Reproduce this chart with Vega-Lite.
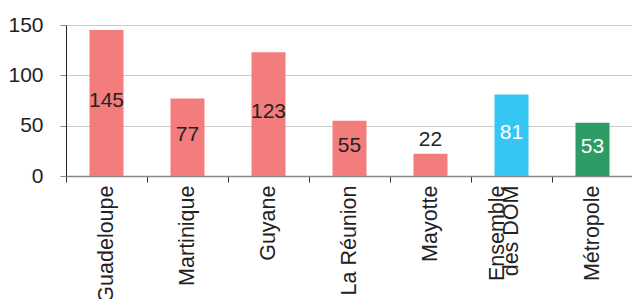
{
  "$schema": "https://vega.github.io/schema/vega-lite/v6.json",
  "autosize": "none",
  "padding": {"left": 66, "top": 25, "right": 0, "bottom": 123},
  "width": 567,
  "height": 151,
  "config": {"view": {"stroke": null}, "font": "Liberation Sans"},
  "data": {"values": [
    {"region": "Guadeloupe", "v": 145, "grp": "DOM"},
    {"region": "Martinique", "v": 77, "grp": "DOM"},
    {"region": "Guyane", "v": 123, "grp": "DOM"},
    {"region": "La Réunion", "v": 55, "grp": "DOM"},
    {"region": "Mayotte", "v": 22, "grp": "DOM"},
    {"region": "Ensemble des DOM", "v": 81, "grp": "Ensemble"},
    {"region": "Métropole", "v": 53, "grp": "Métropole"}
  ]},
  "encoding": {
    "x": {
      "field": "region", "type": "nominal", "sort": null, "title": null,
      "scale": {"paddingInner": 0, "paddingOuter": 0},
      "axis": {
        "labelAngle": -90, "labelFontSize": 21.5, "labelColor": "#222",
        "labelPadding": 3, "labelLineHeight": 14.5, "labelOffset": -14.5,
        "labelExpr": "datum.label === 'Ensemble des DOM' ? ['Ensemble', '\u00a0', 'des DOM'] : ['\u00a0', datum.label]",
        "tickBand": "extent", "tickSize": 6, "tickColor": "#333",
        "domainColor": "#888", "domainWidth": 1.5, "grid": false
      }
    }
  },
  "layer": [
    {
      "mark": {"type": "bar", "width": {"band": 0.42}},
      "encoding": {
        "y": {
          "field": "v", "type": "quantitative", "title": null,
          "scale": {"domain": [0, 150], "nice": false},
          "axis": {
            "values": [0, 50, 100, 150], "labelFontSize": 21, "labelColor": "#222",
            "labelPadding": 17, "tickSize": 6, "tickColor": "#888",
            "domainColor": "#222", "gridColor": "#cccccc", "gridWidth": 1.2
          }
        },
        "color": {
          "field": "grp", "type": "nominal", "legend": null,
          "scale": {"domain": ["DOM", "Ensemble", "Métropole"], "range": ["#f37c7c", "#35c6f4", "#2e9a64"]}
        }
      }
    },
    {
      "transform": [{"filter": "datum.v >= 30"}, {"calculate": "datum.v / 2", "as": "mid"}],
      "mark": {"type": "text", "fontSize": 21, "baseline": "middle", "dy": -2},
      "encoding": {
        "y": {"field": "mid", "type": "quantitative"},
        "text": {"field": "v", "type": "quantitative"},
        "color": {"condition": {"test": "datum.grp === 'DOM'", "value": "#222"}, "value": "#ffffff"}
      }
    },
    {
      "transform": [{"filter": "datum.v < 30"}],
      "mark": {"type": "text", "fontSize": 21, "baseline": "bottom", "dy": -4, "color": "#222"},
      "encoding": {
        "y": {"field": "v", "type": "quantitative"},
        "text": {"field": "v", "type": "quantitative"}
      }
    }
  ]
}
